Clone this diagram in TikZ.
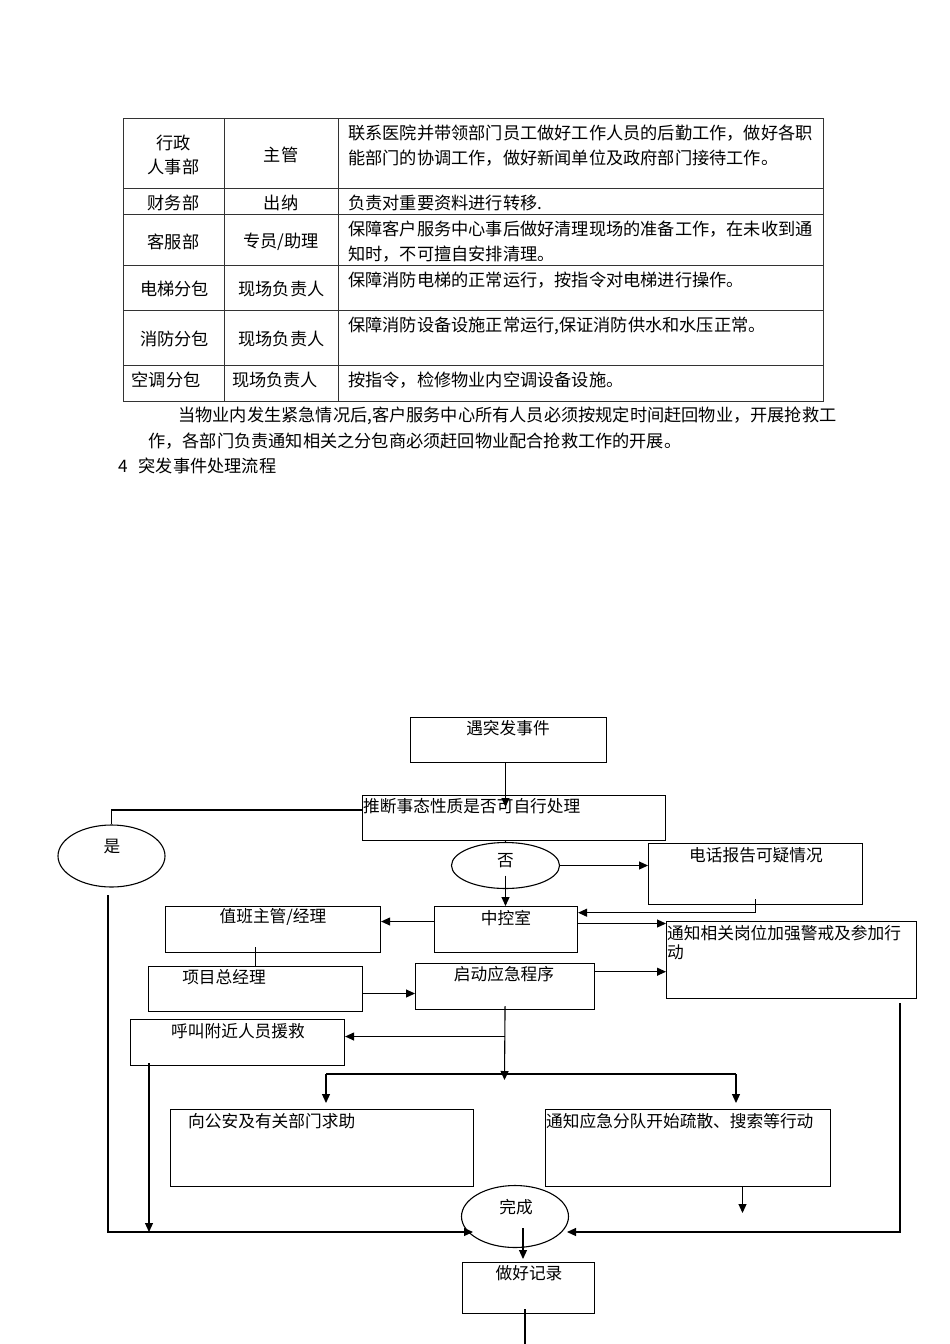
\documentclass[tikz,border=0pt]{standalone}
\usepackage{fontspec}
\setmainfont{Noto Sans CJK SC}
\usetikzlibrary{arrows.meta,shapes.geometric}
\begin{document}
\begin{tikzpicture}[x=1pt,y=-1pt,
  tl/.style={draw=black!80,line width=0.9pt},
  tt/.style={font=\fontsize{17.2}{20}\selectfont,inner sep=0pt},
  ft/.style={font=\fontsize{16.7}{19}\selectfont,inner sep=0pt},
  box/.style={draw,line width=1.1pt,inner sep=0pt,anchor=north west},
  oval/.style={draw,ellipse,line width=1.1pt,inner sep=0pt},
  ln/.style={line width=1.1pt},
  arr/.style={line width=1.1pt,-{Triangle[length=9pt,width=8pt]}}]
\useasboundingbox (0,0) rectangle (950,1344);
\fill[white] (0,0) rectangle (950,1344);
% ---------------- table ----------------
\draw[tl] (123,118) rectangle (823,401);
\draw[tl] (224,118) -- (224,401);
\draw[tl] (338,118) -- (338,401);
\foreach \yy in {188,214,265,310,365} \draw[tl] (123,\yy) -- (823,\yy);
\node[tt] (r1a) at (173.5,143) {行政};
\node[tt] (r1b) at (173.5,167) {人事部};
\node[tt] (r1c) at (281,155) {主管};
\node[tt,anchor=west] (r1d) at (348,133) {联系医院并带领部门员工做好工作人员的后勤工作，做好各职};
\node[tt,anchor=west] (r1e) at (348,158) {能部门的协调工作，做好新闻单位及政府部门接待工作。};
\node[tt] (r2a) at (173.5,203) {财务部};
\node[tt] (r2b) at (281,203) {出纳};
\node[tt,anchor=west] (r2c) at (348,203) {负责对重要资料进行转移.};
\node[tt] (r3a) at (173.5,241.5) {客服部};
\node[tt] (r3b) at (281,241.5) {专员/助理};
\node[tt,anchor=west] (r3c) at (348,229) {保障客户服务中心事后做好清理现场的准备工作，在未收到通};
\node[tt,anchor=west] (r3d) at (348,254) {知时，不可擅自安排清理。};
\node[tt] (r4a) at (174.5,289) {电梯分包};
\node[tt] (r4b) at (281.5,289) {现场负责人};
\node[tt,anchor=west] (r4c) at (348,280.5) {保障消防电梯的正常运行，按指令对电梯进行操作。};
\node[tt] (r5a) at (174.5,339) {消防分包};
\node[tt] (r5b) at (281.5,339) {现场负责人};
\node[tt,anchor=west] (r5c) at (348,326) {保障消防设备设施正常运行,保证消防供水和水压正常。};
\node[tt] (r6a) at (166,380) {空调分包};
\node[tt] (r6b) at (275,380) {现场负责人};
\node[tt,anchor=west] (r6c) at (348,380) {按指令，检修物业内空调设备设施。};
% ---------------- paragraph ----------------
\node[tt,anchor=west] (p1) at (178,416) {当物业内发生紧急情况后,客户服务中心所有人员必须按规定时间赶回物业，开展抢救工};
\node[tt,anchor=west] (p2) at (148,441) {作，各部门负责通知相关之分包商必须赶回物业配合抢救工作的开展。};
\node[tt,anchor=west] (h4) at (118,465.5) {4\hspace{11pt}突发事件处理流程};
% ---------------- flowchart boxes ----------------
\node[box,minimum width=196pt,minimum height=45pt] (A) at (410,717) {};
\node[ft] (tA) at (508,728) {遇突发事件};
\node[box,minimum width=303pt,minimum height=45pt] (B) at (362,795) {};
\node[ft,anchor=west] (tB) at (363,806) {推断事态性质是否可自行处理};
\node[oval,minimum width=107pt,minimum height=62pt] (Y) at (111.5,856) {};
\node[ft] (tY) at (112,846) {是};
\node[oval,minimum width=108pt,minimum height=46pt] (N) at (505.5,865.5) {};
\node[ft] (tN) at (505.5,861) {否};
\node[box,minimum width=214pt,minimum height=61pt] (P) at (648,843) {};
\node[ft] (tP) at (756,855) {电话报告可疑情况};
\node[box,minimum width=143.5pt,minimum height=46pt] (CC) at (433.5,906) {};
\node[ft] (tCC) at (506,918) {中控室};
\node[box,minimum width=215pt,minimum height=46pt] (D) at (165,906) {};
\node[ft] (tD) at (273,917) {值班主管/经理};
\node[box,minimum width=250pt,minimum height=77pt] (NT) at (666,921) {};
\node[ft,anchor=west] (tNT1) at (667,933.5) {通知相关岗位加强警戒及参加行};
\node[ft,anchor=west] (tNT2) at (667,952.5) {动};
\node[box,minimum width=214pt,minimum height=45pt] (PM) at (148,966) {};
\node[ft] (tPM) at (224,977) {项目总经理};
\node[box,minimum width=179pt,minimum height=46pt] (S) at (415,963) {};
\node[ft] (tS) at (504,974) {启动应急程序};
\node[box,minimum width=214pt,minimum height=46pt] (C) at (130,1019) {};
\node[ft] (tC) at (238,1031) {呼叫附近人员援救};
\node[box,minimum width=303pt,minimum height=77pt] (PO) at (170,1109) {};
\node[ft,anchor=west] (tPO) at (188,1121) {向公安及有关部门求助};
\node[box,minimum width=285pt,minimum height=77pt] (T) at (545,1109) {};
\node[ft,anchor=west] (tT) at (546,1121) {通知应急分队开始疏散、搜索等行动};
\node[oval,minimum width=107pt,minimum height=62pt] (Done) at (515,1216.5) {};
\node[ft] (tDone) at (516,1207) {完成};
\node[box,minimum width=132pt,minimum height=51pt] (R) at (462,1262) {};
\node[ft] (tR) at (529,1273) {做好记录};
% ---------------- coordinates ----------------
\coordinate (aEnd) at (505.5,807);
\coordinate (ys) at (108,895);
\coordinate (dl) at (473,1232);
\coordinate (dr) at (567,1232);
\coordinate (nr) at (900,1003);
\coordinate (sd) at (504.5,1080);
\coordinate (hl) at (326,1074);
\coordinate (hr) at (736,1074);
\coordinate (cs) at (149,1063);
\coordinate (ts) at (742.5,1186);
\coordinate (ds) at (523,1228);
\coordinate (bottom) at (525,1344);
% ---------------- connectors ----------------
\draw[arr] (A.south -| aEnd) -- (aEnd);
\draw[ln] (B.west |- 0,810) -| (Y.north);
\draw[arr] (ys) |- (dl);
\draw[ln] (N.north |- B.south) -- (N.north);
\draw[arr] (N.east) -- (N.east -| P.west);
\draw[arr] ([yshift=-10pt]N.center) -- (N.center |- CC.north);
\draw[arr] ([yshift=6pt]P.south) |- (CC.east |- 0,912.7);
\draw[arr] (CC.west |- 0,921.5) -- (D.east |- 0,921.5);
\draw[arr] (CC.east |- 0,923.5) -- (NT.west |- 0,923.5);
\draw[ln] ([yshift=6pt]PM.north |- D.south) -- (PM.north);
\draw[arr] (PM.east |- 0,993.5) -- (S.west |- 0,993.5);
\draw[arr] (S.east |- 0,971.7) -- (NT.west |- 0,971.7);
\draw[arr] (nr) |- (dr);
\draw[arr] ([yshift=4pt]S.south) -- (sd);
\draw[arr] (S.south |- 0,1036.5) -- (C.east |- 0,1036.5);
\draw[ln] (hl) -- (hr);
\draw[arr] (hl) -- ++(0,29);
\draw[arr] (hr) -- ++(0,29);
\draw[arr] (cs) -- (cs |- dl);
\draw[arr] (ts) -- ++(0,27);
\draw[arr] (ds) -- ([yshift=3pt]R.north -| ds);
\draw[ln] ([yshift=5pt]R.south -| bottom) -- (bottom);
\end{tikzpicture}
\end{document}
